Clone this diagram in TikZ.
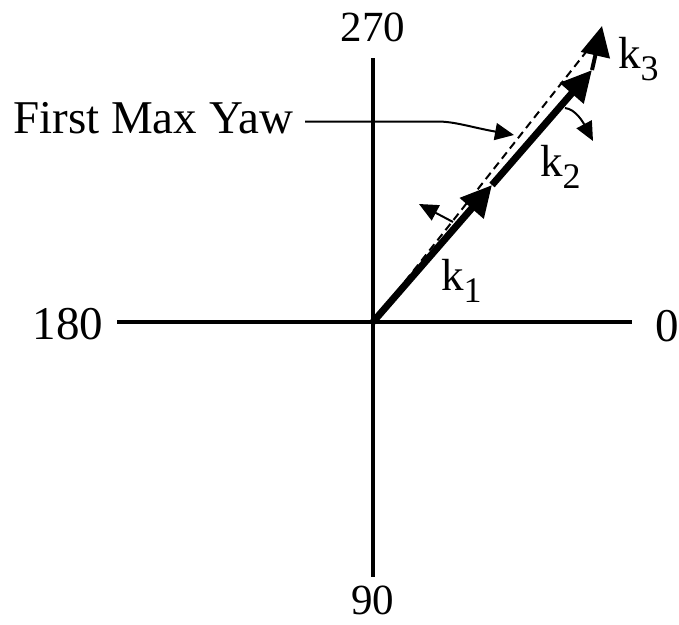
\documentclass[tikz,border=0pt]{standalone}
\usepackage{fontspec}
\setmainfont{Liberation Serif}
\usetikzlibrary{arrows.meta}

\newcommand{\kvec}[1]{k\raisebox{-12pt}{\fontsize{36}{36}\selectfont #1}}

\begin{document}
\begin{tikzpicture}[
    x=1pt, y=-1pt,
    axis line/.style={
      line width=4pt
    },
    axis label/.style={
      inner sep=0pt,
      anchor=base,
      font=\fontsize{47}{50}\selectfont
    },
    small label/.style={
      axis label,
      font=\fontsize{43}{46}\selectfont
    },
    vector label/.style={
      inner sep=0pt,
      anchor=base west,
      font=\fontsize{45}{48}\selectfont
    },
    vector line/.style={
      line width=7pt,
      -{Triangle[length=31pt,width=30pt]}
    },
    third vector/.style={
      line width=4pt,
      -{Triangle[length=30pt,width=29pt]}
    },
    yaw line/.style={
      line width=2pt,
      dash pattern=on 8pt off 5pt
    },
    turn arrow/.style={
      line width=2pt,
      -{Triangle[length=19pt,width=17pt]}
    }
  ]

    \useasboundingbox (0,0) rectangle (679,624);

    \node[small label] (n270) at (373,41) {270};
    \node[small label] (n90) at (372.5,614) {90};
    \node[axis label] (n180) at (68,339) {180};
    \node[axis label] (n0) at (667,341) {0};

    \coordinate (ax-top) at (373,58);
    \coordinate (ax-bot) at (373,577);
    \coordinate (ax-left) at (117,322);
    \coordinate (ax-right) at (632,322);

    \draw[axis line] (ax-top) -- (ax-bot);
    \draw[axis line] (ax-left) -- (ax-right);

    \coordinate (origin) at (373,322);
    \coordinate (k1-tip) at (492,185);
    \coordinate (k2-tip) at (592,70);
    \coordinate (k3-tip) at (602,26);
    \coordinate (yaw-end) at (586,52);

    \draw[yaw line] (origin) -- (yaw-end);

    \draw[vector line] (origin) -- (k1-tip);
    \draw[vector line] (k1-tip) -- (k2-tip);
    \draw[third vector] (k2-tip) -- (k3-tip);

    \node[vector label] (k1) at (441,290) {\kvec{1}};
    \node[vector label] (k2) at (540,176.5) {\kvec{2}};
    \node[vector label] (k3) at (618,68) {\kvec{3}};

    \coordinate (turn1-a) at (453,222);
    \coordinate (turn1-b) at (419,204);
    \draw[turn arrow] (turn1-a) -- (turn1-b);

    \coordinate (turn2-a) at (565,108);
    \coordinate (turn2-b) at (593,141);
    \draw[turn arrow] (turn2-a) .. controls (576,109) and (584,124) .. (turn2-b);

    \node[vector label, font=\fontsize{47}{50}\selectfont] (yaw) at (13,133) {First Max Yaw};

    \coordinate (lead-a) at (305,121.5);
    \coordinate (lead-b) at (437,121.5);
    \coordinate (lead-tip) at (514,135);
    \draw[turn arrow] (lead-a) -- (lead-b) .. controls (455,121.5) and (470,127) .. (lead-tip);

  \end{tikzpicture}
\end{document}
